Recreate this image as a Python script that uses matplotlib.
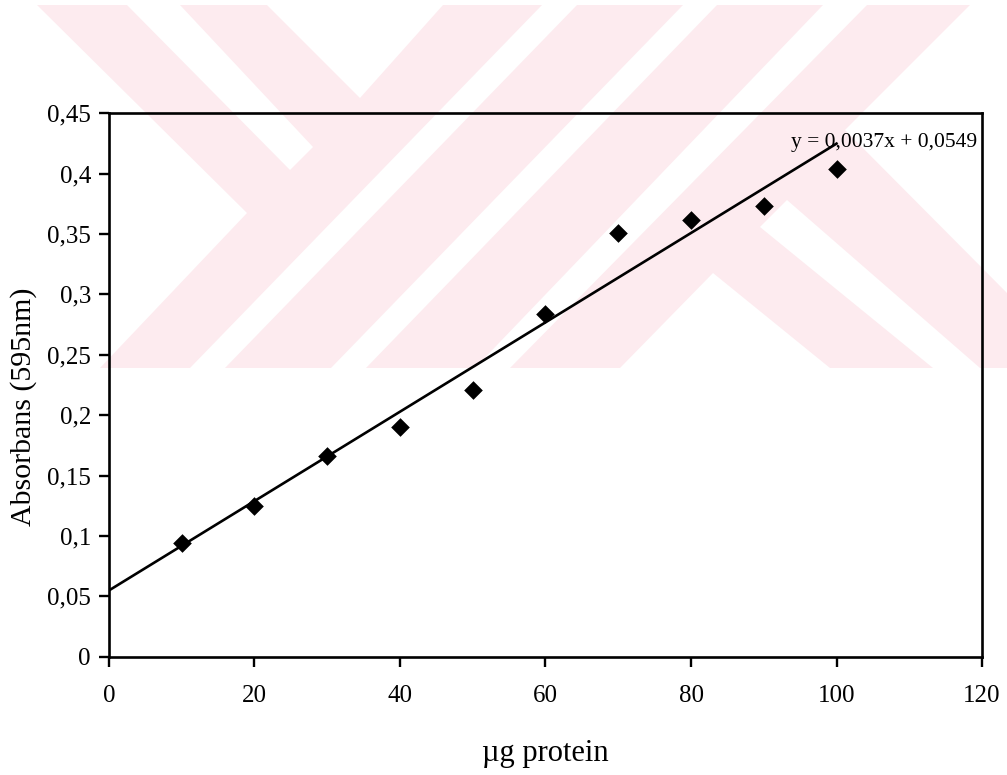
import matplotlib
matplotlib.use("Agg")
import matplotlib.pyplot as plt
from matplotlib.patches import Polygon
from matplotlib.ticker import FixedLocator, FuncFormatter

# Bradford standard curve
protein_ug = [10, 20, 30, 40, 50, 60, 70, 80, 90, 100]
absorbance = [0.094, 0.125, 0.166, 0.190, 0.221, 0.284, 0.351, 0.362, 0.373, 0.404]

# Excel linear trendline shown on the chart
fit_slope = 0.0037
fit_intercept = 0.0549
fit_x = [0, 100]
fit_label = "y = 0,0037x + 0,0549"

x_ticks = [0, 20, 40, 60, 80, 100, 120]
y_ticks = [0, 0.05, 0.1, 0.15, 0.2, 0.25, 0.3, 0.35, 0.4, 0.45]

W, H = 1007, 775
PINK = "#fdebef"

# scanned-page watermark (pixel outlines, y from the top of the page)
wm_base = [(37, 5), (1007, 5), (1007, 368), (37, 368)]
wm_gaps = [
    [(0, 5), (37, 5), (247, 213), (100, 368), (0, 368)],
    [(127, 5), (180, 5), (313, 147), (290, 170)],
    [(267, 5), (443, 5), (360, 98)],
    [(190, 368), (225, 368), (577, 5), (542, 5)],
    [(331, 368), (366, 368), (717, 5), (683, 5)],
    [(475, 368), (510, 368), (867, 5), (823, 5)],
    [(970, 5), (1007, 5), (1007, 293), (845, 130)],
    [(760, 227), (787, 200), (980, 368), (933, 368)],
    [(620, 368), (713, 273), (830, 368)],
]


def to_fig(pts):
    return [(x / W, 1 - y / H) for x, y in pts]


def comma_fmt(v, _pos=None):
    return f"{v:g}".replace(".", ",")


plt.rcParams["font.family"] = ["Liberation Serif", "DejaVu Serif"]

fig = plt.figure(figsize=(W / 100, H / 100), dpi=100)
fig.patch.set_facecolor("white")

fig.patches.append(Polygon(to_fig(wm_base), closed=True, transform=fig.transFigure,
                           facecolor=PINK, edgecolor="none", zorder=-2))
for gap in wm_gaps:
    fig.patches.append(Polygon(to_fig(gap), closed=True, transform=fig.transFigure,
                               facecolor="white", edgecolor="none", zorder=-1))

ax = fig.add_axes([0.1082, 0.1526, 0.867, 0.7012])
ax.set_zorder(2)
ax.set_facecolor("none")

ax.scatter(protein_ug, absorbance, marker="D", s=9.5 ** 2, color="black",
           edgecolors="black", linewidths=0, zorder=4, clip_on=False)

fit_y = [fit_slope * x + fit_intercept for x in fit_x]
ax.plot(fit_x, fit_y, color="black", linewidth=1.9, zorder=3)

ax.text(119.3, 0.422, fit_label, ha="right", va="baseline", fontsize=15.5)

ax.set_xlim(0, 120)
ax.set_ylim(0, 0.45)
ax.xaxis.set_major_locator(FixedLocator(x_ticks))
ax.yaxis.set_major_locator(FixedLocator(y_ticks))
ax.yaxis.set_major_formatter(FuncFormatter(comma_fmt))

for sp in ax.spines.values():
    sp.set_linewidth(1.9)
    sp.set_color("black")

ax.tick_params(axis="both", direction="out", length=7, width=1.7,
               labelsize=18, colors="black")
ax.tick_params(axis="x", pad=13)
ax.tick_params(axis="y", pad=6)

ax.set_xlabel("µg protein", fontsize=22)
ax.xaxis.label.set_va("baseline")
ax.xaxis.set_label_coords(0.5, -0.191)

ax.set_ylabel("Absorbans (595nm)", fontsize=21.5)
ax.yaxis.set_label_coords(-0.0825, 0.46)

fig.savefig("out.png", dpi=100, facecolor="white")
